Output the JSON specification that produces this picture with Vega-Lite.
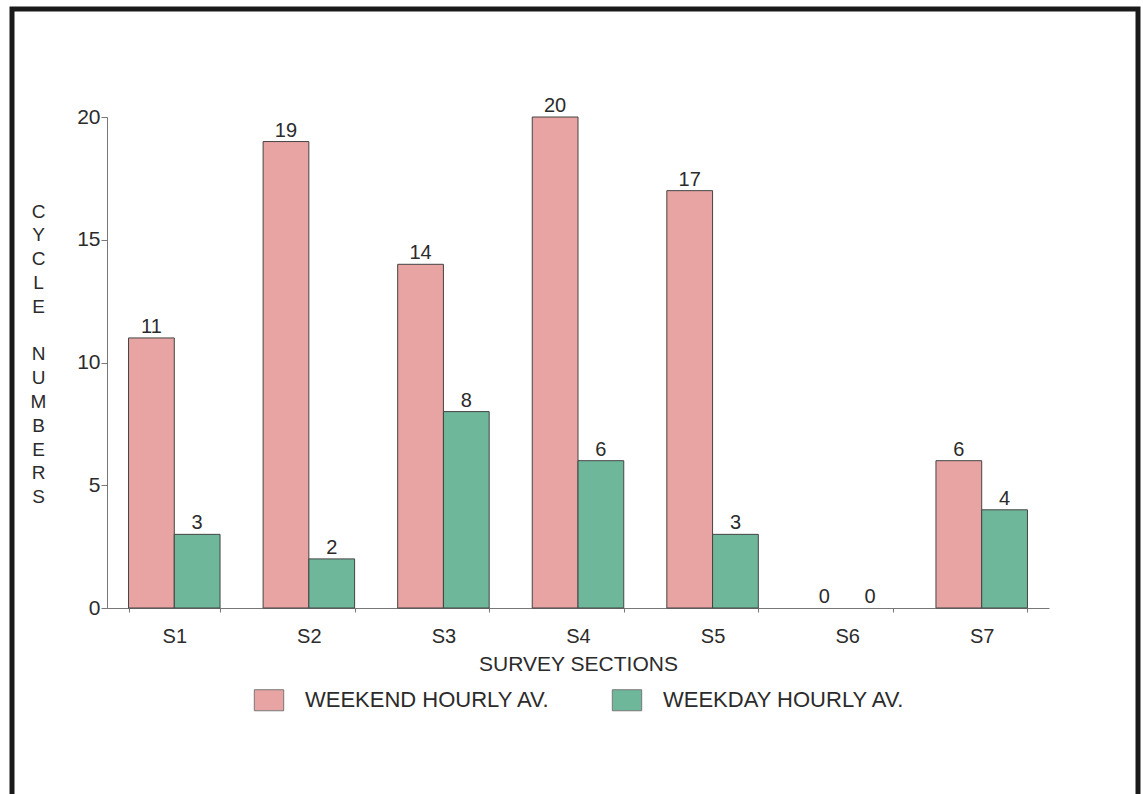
{
  "$schema": "https://vega.github.io/schema/vega-lite/v6.json",
  "width": 1126,
  "height": 800,
  "autosize": "none",
  "padding": {"left": 12, "top": 9, "right": 5, "bottom": 0},
  "background": "white",
  "config": {
    "font": "Liberation Sans",
    "view": {"stroke": "#1a1a1a", "strokeWidth": 5}
  },
  "data": {
    "values": [
      {"section": "S1", "series": "WEEKEND HOURLY AV.", "value": 11},
      {"section": "S1", "series": "WEEKDAY HOURLY AV.", "value": 3},
      {"section": "S2", "series": "WEEKEND HOURLY AV.", "value": 19},
      {"section": "S2", "series": "WEEKDAY HOURLY AV.", "value": 2},
      {"section": "S3", "series": "WEEKEND HOURLY AV.", "value": 14},
      {"section": "S3", "series": "WEEKDAY HOURLY AV.", "value": 8},
      {"section": "S4", "series": "WEEKEND HOURLY AV.", "value": 20},
      {"section": "S4", "series": "WEEKDAY HOURLY AV.", "value": 6},
      {"section": "S5", "series": "WEEKEND HOURLY AV.", "value": 17},
      {"section": "S5", "series": "WEEKDAY HOURLY AV.", "value": 3},
      {"section": "S6", "series": "WEEKEND HOURLY AV.", "value": 0},
      {"section": "S6", "series": "WEEKDAY HOURLY AV.", "value": 0},
      {"section": "S7", "series": "WEEKEND HOURLY AV.", "value": 6},
      {"section": "S7", "series": "WEEKDAY HOURLY AV.", "value": 4}
    ]
  },
  "encoding": {
    "x": {
      "field": "section",
      "type": "nominal",
      "scale": {"range": [95, 1037], "paddingInner": 0.32, "paddingOuter": 0.16},
      "axis": {
        "orient": "bottom",
        "offset": -201,
        "labelAngle": 0,
        "labelFontSize": 20,
        "labelColor": "#2b2b2b",
        "labelPadding": 14,
        "tickBand": "extent",
        "tickSize": 4,
        "tickColor": "#777",
        "domainColor": "#777",
        "title": "SURVEY SECTIONS",
        "titleFontSize": 21,
        "titleFontWeight": "normal",
        "titleColor": "#2b2b2b",
        "titlePadding": 7
      }
    },
    "xOffset": {
      "field": "series",
      "type": "nominal",
      "scale": {"domain": ["WEEKEND HOURLY AV.", "WEEKDAY HOURLY AV."], "paddingInner": 0}
    },
    "y": {
      "field": "value",
      "type": "quantitative",
      "scale": {"domain": [0, 20], "range": [599, 108], "nice": false},
      "axis": {
        "orient": "left",
        "offset": -95,
        "values": [0, 5, 10, 15, 20],
        "grid": false,
        "labelFontSize": 21,
        "labelColor": "#2b2b2b",
        "labelPadding": 1,
        "tickSize": 6,
        "tickColor": "#777",
        "domainColor": "#777",
        "title": ["C", "Y", "C", "L", "E", "\u200b", "N", "U", "M", "B", "E", "R", "S"],
        "titleAngle": 0,
        "titleAlign": "center",
        "titleBaseline": "middle",
        "titleX": -69,
        "titleY": 202,
        "titleFontSize": 19,
        "titleFontWeight": "normal",
        "titleColor": "#2b2b2b",
        "titleLineHeight": 23.8
      }
    }
  },
  "layer": [
    {
      "transform": [{"filter": "datum.value > 0"}],
      "mark": {"type": "bar", "stroke": "#444", "strokeWidth": 1},
      "encoding": {
        "color": {
          "field": "series",
          "type": "nominal",
          "scale": {"domain": ["WEEKEND HOURLY AV.", "WEEKDAY HOURLY AV."], "range": ["#E8A3A3", "#6FB79B"]},
          "legend": {
            "title": null,
            "orient": "none",
            "legendX": 246,
            "legendY": 680,
            "direction": "horizontal",
            "columns": 2,
            "columnPadding": 59,
            "symbolType": "M-1.4,-1L1.4,-1L1.4,1L-1.4,1Z",
            "symbolSize": 441,
            "symbolStrokeColor": "#777",
            "symbolStrokeWidth": 1,
            "symbolOpacity": 1,
            "labelFontSize": 22,
            "labelColor": "#2b2b2b",
            "labelOffset": 25,
            "labelLimit": 400
          }
        }
      }
    },
    {
      "mark": {"type": "text", "baseline": "alphabetic", "dy": -5, "fontSize": 20, "color": "#2b2b2b"},
      "encoding": {
        "text": {"field": "value", "type": "quantitative"}
      }
    }
  ]
}
